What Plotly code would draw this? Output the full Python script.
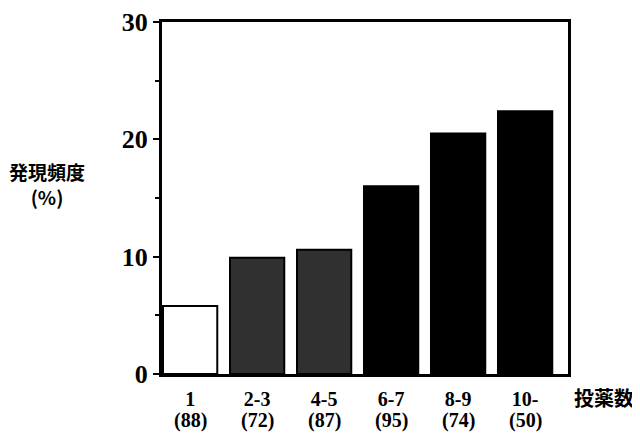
import plotly.graph_objects as go

categories = ["1", "2-3", "4-5", "6-7", "8-9", "10-"]
counts = ["88", "72", "87", "95", "74", "50"]
values = [5.8, 9.9, 10.6, 16.0, 20.5, 22.4]
bar_colors = ["white", "#303030", "#303030", "black", "black", "black"]

x_idx = list(range(len(categories)))

fig = go.Figure()
fig.add_trace(go.Bar(
    x=x_idx, y=values, width=0.81,
    marker=dict(color=bar_colors, line=dict(color="black", width=2)),
    showlegend=False,
))

fig.update_layout(
    width=632, height=436,
    margin=dict(l=154, r=72, t=14, b=70),
    paper_bgcolor="white", plot_bgcolor="white",
    font=dict(family="Liberation Serif", color="black"),
)
fig.update_xaxes(
    range=[-0.42, 5.64], tickmode="array", tickvals=x_idx, ticktext=categories,
    showline=True, linecolor="black", linewidth=2.5, mirror=True,
    ticks="", showgrid=False, zeroline=False, automargin=False,
    ticklabelstandoff=5,
    tickfont=dict(family="Liberation Serif", size=20, weight="bold"),
)
fig.update_yaxes(
    range=[0, 30], tickvals=[0, 10, 20, 30],
    showline=True, linecolor="black", linewidth=3, mirror=True,
    ticks="outside", ticklen=6, tickwidth=2, tickcolor="black",
    minor=dict(tickvals=[5, 15, 25], ticks="outside", ticklen=4, tickwidth=1.5, tickcolor="black"),
    showgrid=False, zeroline=False, automargin=False,
    tickfont=dict(family="Liberation Serif", size=26, weight="bold"),
)

for i, n in zip(x_idx, counts):
    fig.add_annotation(
        x=i, xref="x", yref="paper", y=-0.133, yanchor="middle", xanchor="center",
        text=f"({n})", showarrow=False,
        font=dict(family="Liberation Serif", size=20, weight="bold"),
    )

fig.add_annotation(
    xref="paper", yref="paper", x=-0.283, y=0.541, xanchor="center", yanchor="middle",
    text="発現頻度<br>(%)", showarrow=False, align="center",
    font=dict(family="Noto Sans CJK JP", size=19, weight="bold"),
)
fig.add_annotation(
    xref="paper", yref="paper", x=1.01, y=-0.068, xanchor="left", yanchor="middle",
    text="投薬数", showarrow=False,
    font=dict(family="Noto Sans CJK JP", size=20, weight="bold"),
)

fig.write_html("out.html")
